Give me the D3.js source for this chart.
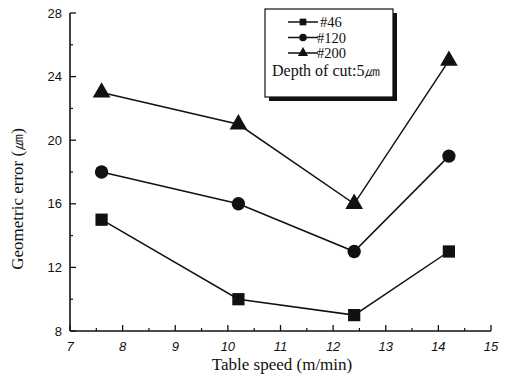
<!DOCTYPE html>
<html>
<head>
<meta charset="utf-8">
<script src="https://cdn.jsdelivr.net/npm/d3@7"></script>
<style>
  body { margin: 0; background: #fff; }
  svg { display: block; }
</style>
</head>
<body>
<div id="chart"></div>
<script>
// table speed (m/min)
const speeds = [7.6, 10.2, 12.4, 14.2];
// geometric error per grit size
const grit46 = [15, 10, 9, 13];
const grit120 = [18, 16, 13, 19];
const grit200 = [23, 21, 16, 25];
const seriesNames = ['#46', '#120', '#200'];
const xTicks = [7, 8, 9, 10, 11, 12, 13, 14, 15];
const yTicks = [8, 12, 16, 20, 24, 28];

const width = 507, height = 377;
const margin = { top: 13, right: 16, bottom: 46, left: 70 };

const svg = d3.select('#chart').append('svg')
   .attr('width', width)
   .attr('height', height);

const x = d3.scaleLinear().domain([7, 15]).range([margin.left, width - margin.right]);
const y = d3.scaleLinear().domain([8, 28]).range([height - margin.bottom, margin.top]);

const ink = '#111';
const serif = 'Liberation Serif, Times New Roman, serif';

// y axis, ticks inward
const yAxis = svg.append('g').attr('transform', `translate(${margin.left},0)`);
yAxis.append('line')
   .attr('x1', 0).attr('x2', 0)
   .attr('y1', y(8)).attr('y2', y(28))
   .attr('stroke', ink).attr('stroke-width', 1.6);
yAxis.selectAll('.major').data(yTicks).join('line')
   .attr('class', 'major')
   .attr('x1', 0).attr('x2', 6)
   .attr('y1', d => y(d)).attr('y2', d => y(d))
   .attr('stroke', ink).attr('stroke-width', 1.3);
yAxis.selectAll('.minor').data(d3.range(10, 28, 4)).join('line')
   .attr('class', 'minor')
   .attr('x1', 0).attr('x2', 3)
   .attr('y1', d => y(d)).attr('y2', d => y(d))
   .attr('stroke', ink).attr('stroke-width', 1.2);
yAxis.selectAll('text').data(yTicks).join('text')
   .attr('x', -8).attr('y', d => y(d))
   .attr('dy', '0.35em')
   .attr('text-anchor', 'end')
   .attr('font-family', 'Liberation Sans, Arial, sans-serif')
   .attr('font-size', 13)
   .attr('fill', ink)
   .text(d => d);

// x axis, ticks inward
const xAxis = svg.append('g').attr('transform', `translate(0,${y(8)})`);
xAxis.append('line')
   .attr('x1', x(7)).attr('x2', x(15))
   .attr('y1', 0).attr('y2', 0)
   .attr('stroke', ink).attr('stroke-width', 1.6);
xAxis.selectAll('.major').data(xTicks).join('line')
   .attr('class', 'major')
   .attr('x1', d => x(d)).attr('x2', d => x(d))
   .attr('y1', 0).attr('y2', -6)
   .attr('stroke', ink).attr('stroke-width', 1.3);
xAxis.selectAll('.minor').data(d3.range(7.5, 15, 1)).join('line')
   .attr('class', 'minor')
   .attr('x1', d => x(d)).attr('x2', d => x(d))
   .attr('y1', 0).attr('y2', -3)
   .attr('stroke', ink).attr('stroke-width', 1.2);
xAxis.selectAll('text').data(xTicks).join('text')
   .attr('x', d => x(d)).attr('y', 20)
   .attr('text-anchor', 'middle')
   .attr('font-family', 'Liberation Sans, Arial, sans-serif')
   .attr('font-size', 13)
   .attr('font-style', 'italic')
   .attr('fill', ink)
   .text(d => d);

// axis titles
svg.append('text')
   .attr('x', 282).attr('y', 370)
   .attr('text-anchor', 'middle')
   .attr('font-family', serif)
   .attr('font-size', 17)
   .attr('fill', ink)
   .text('Table speed (m/min)');

svg.append('text')
   .attr('transform', 'translate(23,199) rotate(-90)')
   .attr('text-anchor', 'middle')
   .attr('font-family', serif)
   .attr('font-size', 17)
   .attr('fill', ink)
   .text('Geometric error (㎛)');

// markers
const symbols = [d3.symbolSquare, d3.symbolCircle, d3.symbolTriangle];
const sizes = [150, 140, 135];

const series = [grit46, grit120, grit200];
const line = d3.line().x((d, i) => x(speeds[i])).y(d => y(d));

series.forEach((vals, k) => {
   const g = svg.append('g');
   g.append('path')
      .attr('d', line(vals))
      .attr('fill', 'none')
      .attr('stroke', ink)
      .attr('stroke-width', 1.5);
   g.selectAll('path.mk').data(vals).join('path')
      .attr('class', 'mk')
      .attr('d', d3.symbol(symbols[k], sizes[k])())
      .attr('transform', (d, i) => `translate(${x(speeds[i])},${y(d)})`)
      .attr('fill', ink);
});

// legend box with shadow
const lg = svg.append('g').attr('transform', 'translate(265,9)');
lg.append('rect')
   .attr('x', 4).attr('y', 4).attr('width', 128).attr('height', 88)
   .attr('fill', ink);
lg.append('rect')
   .attr('x', 0).attr('y', 0).attr('width', 128).attr('height', 88)
   .attr('fill', '#fff').attr('stroke', ink).attr('stroke-width', 1.2);

const rowY = [13, 28.5, 44];
seriesNames.forEach((name, k) => {
   const cy = rowY[k];
   lg.append('line')
      .attr('x1', 23).attr('x2', 53)
      .attr('y1', cy).attr('y2', cy)
      .attr('stroke', ink).attr('stroke-width', 1.5);
   lg.append('path')
      .attr('d', d3.symbol(symbols[k], 45)())
      .attr('transform', `translate(38,${cy})`)
      .attr('fill', ink);
   lg.append('text')
      .attr('x', k === 0 ? 55 : 52).attr('y', cy)
      .attr('dy', '0.35em')
      .attr('font-family', serif)
      .attr('font-size', 14.5)
      .attr('fill', ink)
      .text(name);
});
lg.append('text')
   .attr('x', 7).attr('y', 61)
   .attr('dy', '0.35em')
   .attr('font-family', serif)
   .attr('font-size', 16)
   .attr('fill', ink)
   .text('Depth of cut:5㎛');
</script>
</body>
</html>
